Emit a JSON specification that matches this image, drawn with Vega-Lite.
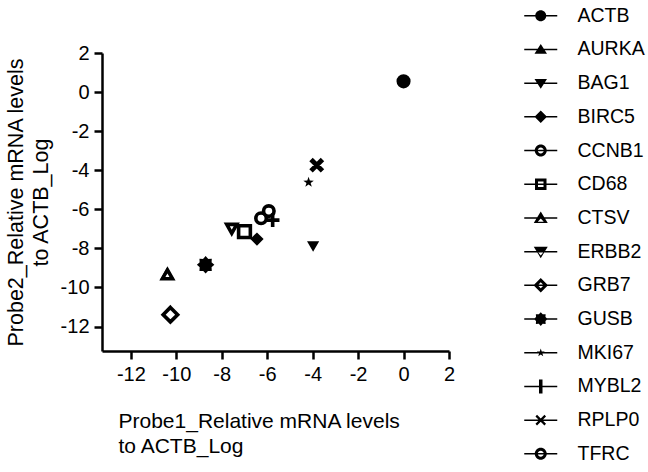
{
  "$schema": "https://vega.github.io/schema/vega-lite/v6.json",
  "width": 347,
  "height": 298,
  "autosize": {"type": "none"},
  "padding": {"left": 102, "top": 53, "right": 199, "bottom": 121},
  "background": "white",
  "config": {
    "view": {"stroke": null},
    "font": "Liberation Sans",
    "axis": {
      "grid": false,
      "domainColor": "black",
      "domainWidth": 2.5,
      "tickColor": "black",
      "tickWidth": 2.5,
      "tickSize": 8,
      "labelFontSize": 20,
      "labelColor": "black",
      "labelFlush": false,
      "labelOverlap": false,
      "titleFontSize": 21,
      "titleFontWeight": "normal",
      "titleColor": "black",
      "titleLineHeight": 25
    }
  },
  "data": {
    "values": [
      {"gene": "ACTB", "probe1": 0.0, "probe2": 0.55},
      {"gene": "AURKA", "probe1": -10.4, "probe2": -9.35},
      {"gene": "CTSV", "probe1": -10.39, "probe2": -9.35},
      {"gene": "BAG1", "probe1": -3.98, "probe2": -7.85},
      {"gene": "BIRC5", "probe1": -6.45, "probe2": -7.52},
      {"gene": "ERBB2", "probe1": -7.56, "probe2": -6.97},
      {"gene": "CD68", "probe1": -7.0, "probe2": -7.14},
      {"gene": "CCNB1", "probe1": -6.27, "probe2": -6.46},
      {"gene": "TFRC", "probe1": -5.93, "probe2": -6.09},
      {"gene": "GRB7", "probe1": -10.26, "probe2": -11.39},
      {"gene": "GUSB", "probe1": -8.71, "probe2": -8.84},
      {"gene": "MKI67", "probe1": -4.18, "probe2": -4.62},
      {"gene": "MYBL2", "probe1": -5.76, "probe2": -6.55},
      {"gene": "RPLP0", "probe1": -3.82, "probe2": -3.74}
    ]
  },
  "encoding": {
    "x": {
      "field": "probe1",
      "type": "quantitative",
      "scale": {"domain": [-13.27, 2], "nice": false, "zero": false},
      "axis": {
        "title": ["Probe1_Relative mRNA levels", "to ACTB_Log"],
        "values": [-12, -10, -8, -6, -4, -2, 0, 2],
        "labelExpr": "datum.value + ''",
        "labelPadding": 5,
        "titleAnchor": "start",
        "titleAlign": "left",
        "titleX": 16,
        "titlePadding": 26
      }
    },
    "y": {
      "field": "probe2",
      "type": "quantitative",
      "scale": {"domain": [-13.25, 2], "nice": false, "zero": false},
      "axis": {
        "title": ["Probe2_Relative mRNA levels", "to ACTB_Log"],
        "values": [-12, -10, -8, -6, -4, -2, 0, 2],
        "labelExpr": "datum.value + ''",
        "labelPadding": 5,
        "titlePadding": 8,
        "titleFontSize": 21.5
      }
    }
  },
  "layer": [
    {
      "mark": {"type": "point", "filled": true, "size": 110, "stroke": "black", "opacity": 1},
      "encoding": {
        "shape": {
          "field": "gene",
          "type": "nominal",
          "scale": {
            "domain": ["ACTB", "AURKA", "BAG1", "BIRC5", "CCNB1", "CD68", "CTSV", "ERBB2", "GRB7", "GUSB", "MKI67", "MYBL2", "RPLP0", "TFRC"],
            "range": [
              "circle",
              "M0,-0.75L0.75,0.55L-0.75,0.55Z",
              "M-0.56,-0.45L0.56,-0.45L0,0.5Z",
              "M0,-0.78L0.78,0L0,0.78L-0.78,0Z",
              "circle",
              "M-1.12,-1.12H1.12V1.12H-1.12Z",
              "M0,-0.95L0.96,0.75L-0.96,0.75Z",
              "M-0.96,-0.75L0.96,-0.75L0,0.95Z",
              "M0,-1.38L1.38,0L0,1.38L-1.38,0Z",
              "M0,-1.15L0.325,-0.785L0.813,-0.813L0.785,-0.325L1.15,0L0.785,0.325L0.813,0.813L0.325,0.785L0,1.15L-0.325,0.785L-0.813,0.813L-0.785,0.325L-1.15,0L-0.785,-0.325L-0.813,-0.813L-0.325,-0.785Z",
              "M0,-1.05L0.247,-0.34L0.999,-0.324L0.399,0.13L0.617,0.849L0,0.42L-0.617,0.849L-0.399,0.13L-0.999,-0.324L-0.247,-0.34Z",
              "M-1.3,0H1.3M0,-1.3V1.3",
              "M-0.765,-0.935L0.935,0.765L0.765,0.935L-0.935,-0.765Z M-0.935,0.765L0.765,-0.935L0.935,-0.765L-0.765,0.935Z",
              "circle"
            ]
          },
          "legend": null
        },
        "fill": {
          "field": "gene",
          "type": "nominal",
          "scale": {
            "domain": ["ACTB", "AURKA", "BAG1", "BIRC5", "CCNB1", "CD68", "CTSV", "ERBB2", "GRB7", "GUSB", "MKI67", "MYBL2", "RPLP0", "TFRC"],
            "range": ["black", "black", "black", "black", "white", "white", "white", "white", "white", "black", "black", "black", "black", "white"]
          },
          "legend": null
        },
        "strokeWidth": {"condition": {"test": "datum.gene === 'MKI67'", "value": 0}, "value": 3.6}
      }
    },
    {
      "mark": {"type": "point", "filled": true, "size": 100, "color": "black", "opacity": 0, "strokeWidth": 0},
      "encoding": {
        "shape": {
          "field": "gene",
          "type": "nominal",
          "scale": {
            "domain": ["ACTB", "AURKA", "BAG1", "BIRC5", "CCNB1", "CD68", "CTSV", "ERBB2", "GRB7", "GUSB", "MKI67", "MYBL2", "RPLP0", "TFRC"],
            "range": [
              "M-1.1,0A1.1,1.1 0 1,1 1.1,0A1.1,1.1 0 1,1 -1.1,0Z M-3.3,-0.15H3.3V0.15H-3.3Z",
              "M0,-1.1L1.25,0.85L-1.25,0.85Z M-3.3,-0.15H3.3V0.15H-3.3Z",
              "M-1.25,-0.85L1.25,-0.85L0,1.1Z M-3.3,-0.15H3.3V0.15H-3.3Z",
              "M0,-1.25L1.25,0L0,1.25L-1.25,0Z M-3.3,-0.15H3.3V0.15H-3.3Z",
              "M-1.2,0A1.2,1.2 0 1,1 1.2,0A1.2,1.2 0 1,1 -1.2,0Z M-0.6,0A0.6,0.6 0 1,0 0.6,0A0.6,0.6 0 1,0 -0.6,0Z M-3.3,-0.15H3.3V0.15H-3.3Z",
              "M-1.15,-1.15H1.15V1.15H-1.15Z M-0.55,-0.55V0.55H0.55V-0.55Z M-3.3,-0.15H3.3V0.15H-3.3Z",
              "M0,-1.3L1.4,1L-1.4,1Z M0,0.1L-0.6,0.75L0.6,0.75Z M-3.3,-0.15H3.3V0.15H-3.3Z",
              "M-1.4,-1L1.4,-1L0,1.3Z M-0.5,0.15L0,0.75L0.5,0.15Z M-3.3,-0.15H3.3V0.15H-3.3Z",
              "M0,-1.45L1.45,0L0,1.45L-1.45,0Z M0,-0.6L-0.6,0L0,0.6L0.6,0Z M-3.3,-0.15H3.3V0.15H-3.3Z",
              "M0,-1.38L0.39,-0.942L0.976,-0.976L0.942,-0.39L1.38,0L0.942,0.39L0.976,0.976L0.39,0.942L0,1.38L-0.39,0.942L-0.976,0.976L-0.942,0.39L-1.38,0L-0.942,-0.39L-0.976,-0.976L-0.39,-0.942Z M-3.3,-0.15H3.3V0.15H-3.3Z",
              "M0,-0.84L0.198,-0.272L0.8,-0.26L0.32,0.104L0.494,0.68L0,0.336L-0.494,0.68L-0.32,0.104L-0.8,-0.26L-0.198,-0.272Z M-3.3,-0.15H3.3V0.15H-3.3Z",
              "M-0.35,-1.4H0.35V1.4H-0.35Z M-3.3,-0.15H3.3V0.15H-3.3Z",
              "M-0.744,-1.056L1.056,0.744L0.744,1.056L-1.056,-0.744Z M-1.056,0.744L0.744,-1.056L1.056,-0.744L-0.744,1.056Z M-3.3,-0.15H3.3V0.15H-3.3Z",
              "M-1.2,0A1.2,1.2 0 1,1 1.2,0A1.2,1.2 0 1,1 -1.2,0Z M-0.6,0A0.6,0.6 0 1,0 0.6,0A0.6,0.6 0 1,0 -0.6,0Z M-3.3,-0.15H3.3V0.15H-3.3Z"
            ]
          },
          "legend": {
            "title": null,
            "orient": "none",
            "legendX": 429,
            "legendY": -47,
            "padding": 0,
            "labelFontSize": 19.5,
            "labelColor": "black",
            "labelOffset": 27,
            "rowPadding": 12.7,
            "symbolSize": 100,
            "symbolFillColor": "black",
            "symbolStrokeWidth": 0,
            "symbolOpacity": 1
          }
        }
      }
    }
  ],
  "resolve": {"scale": {"shape": "independent", "fill": "independent"}, "legend": {"shape": "independent"}}
}
